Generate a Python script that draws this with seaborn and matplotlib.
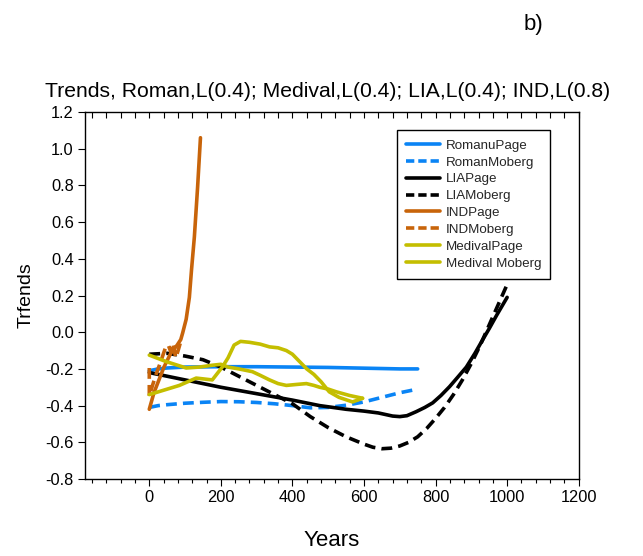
import numpy as np
import pandas as pd
import matplotlib
matplotlib.use("Agg")
import matplotlib.pyplot as plt
from matplotlib.ticker import MultipleLocator
import seaborn as sns

sns.set_theme(style="white")
plt.rcParams['font.family'] = ['Liberation Sans', 'DejaVu Sans']

# ---- data ----
roman_page_x = [0, 25, 50, 100, 200, 300, 400, 500, 600, 700, 750]
roman_page_y = [-0.21, -0.2, -0.195, -0.19, -0.188, -0.188, -0.19, -0.192, -0.196, -0.2, -0.2]

roman_moberg_x = [0, 25, 50, 100, 150, 200, 250, 300, 350, 400, 450, 500, 550, 600, 650, 700, 750]
roman_moberg_y = [-0.41, -0.40, -0.395, -0.387, -0.382, -0.378, -0.379, -0.383, -0.39, -0.40, -0.412, -0.41, -0.398, -0.38, -0.355, -0.33, -0.31]

lia_page_x = [0, 100, 200, 300, 400, 476, 550, 600, 640, 680, 700, 720, 746, 770, 792, 815, 839, 862, 886, 910, 932, 950, 970, 985, 1000]
lia_page_y = [-0.22, -0.26, -0.30, -0.335, -0.37, -0.40, -0.42, -0.43, -0.44, -0.457, -0.46, -0.455, -0.433, -0.41, -0.385, -0.345, -0.297, -0.245, -0.19, -0.115, -0.04, 0.02, 0.09, 0.14, 0.19]

lia_moberg_x = [0, 50, 100, 150, 200, 250, 300, 350, 400, 450, 500, 550, 600, 625, 650, 675, 700, 725, 750, 775, 800, 825, 850, 875, 900, 925, 950, 975, 1000]
lia_moberg_y = [-0.12, -0.115, -0.13, -0.15, -0.19, -0.24, -0.29, -0.34, -0.39, -0.46, -0.52, -0.57, -0.61, -0.627, -0.635, -0.632, -0.62, -0.60, -0.57, -0.525, -0.47, -0.41, -0.34, -0.26, -0.17, -0.07, 0.04, 0.15, 0.26]

ind_page_x = [0, 13, 27, 41, 60, 78, 88, 93, 103, 112, 118, 126, 135, 143]
ind_page_y = [-0.42, -0.33, -0.26, -0.19, -0.115, -0.07, -0.04, -0.006, 0.07, 0.19, 0.34, 0.52, 0.79, 1.06]

ind_moberg_x = [0, 0, 9, 18, 32, 46, 53, 60, 66, 74, 81, 88]
ind_moberg_y = [-0.195, -0.35, -0.29, -0.235, -0.16, -0.08, -0.07, -0.106, -0.06, -0.14, -0.097, -0.05]

medival_page_x = [0, 84, 131, 176, 204, 220, 237, 255, 280, 310, 336, 360, 383, 400, 420, 440, 460, 480, 503, 530, 568, 596]
medival_page_y = [-0.34, -0.29, -0.25, -0.26, -0.19, -0.14, -0.07, -0.05, -0.055, -0.065, -0.08, -0.085, -0.10, -0.12, -0.16, -0.20, -0.23, -0.27, -0.325, -0.355, -0.38, -0.36]

medival_moberg_x = [0, 47, 103, 140, 176, 200, 220, 250, 288, 310, 336, 360, 383, 410, 439, 460, 476, 500, 523, 560, 596]
medival_moberg_y = [-0.125, -0.16, -0.195, -0.19, -0.18, -0.175, -0.19, -0.20, -0.215, -0.235, -0.26, -0.28, -0.29, -0.285, -0.28, -0.29, -0.30, -0.31, -0.325, -0.345, -0.36]

labels = ["RomanuPage", "RomanMoberg", "LIAPage", "LIAMoberg",
          "INDPage", "INDMoberg", "MedivalPage", "Medival Moberg"]

BLUE = "#0a84f5"
ORANGE = "#c8640a"
YELLOW = "#c4be00"
series = [
    (roman_page_x, roman_page_y, BLUE, False),
    (roman_moberg_x, roman_moberg_y, BLUE, True),
    (lia_page_x, lia_page_y, "black", False),
    (lia_moberg_x, lia_moberg_y, "black", True),
    (ind_page_x, ind_page_y, ORANGE, False),
    (ind_moberg_x, ind_moberg_y, ORANGE, True),
    (medival_page_x, medival_page_y, YELLOW, False),
    (medival_moberg_x, medival_moberg_y, YELLOW, False),
]

fig = plt.figure(figsize=(6.43, 5.56), dpi=100)
ax = fig.add_axes([0.132, 0.1385, 0.768, 0.66])

lw = 2.6
for (xs, ys, col, dashed), lab in zip(series, labels):
    df = pd.DataFrame({"x": xs, "y": ys})
    sns.lineplot(data=df, x="x", y="y", ax=ax, color=col, lw=lw,
                 estimator=None, sort=False, label=lab,
                 linestyle="--" if dashed else "-")
for line in ax.get_lines():
    if line.get_linestyle() == "--":
        line.set_dashes((3.0, 1.7))
    line.set_solid_joinstyle("round")

ax.set_xlim(-180, 1200)
ax.set_ylim(-0.8, 1.2)
ax.set_xticks([0, 200, 400, 600, 800, 1000, 1200])
ax.xaxis.set_minor_locator(MultipleLocator(40))
yt = np.round(np.arange(-0.8, 1.21, 0.2), 1)
ax.set_yticks(yt)
ax.set_yticklabels([f"{v + 0.0:.1f}" if abs(v) > 1e-9 else "0.0" for v in yt])
ax.tick_params(axis="both", which="major", labelsize=11.8, direction="out",
               length=5, width=0.8, color="black", labelcolor="black", pad=3)
ax.tick_params(axis="x", which="minor", direction="out", length=3, width=0.8,
               color="black", bottom=True)
ax.tick_params(axis="x", bottom=True)
ax.tick_params(axis="y", left=True)

sec = ax.secondary_xaxis("top")
sec.set_xticks([0, 200, 400, 600, 800, 1000, 1200])
sec.xaxis.set_minor_locator(MultipleLocator(40))
sec.tick_params(axis="x", which="both", direction="in", length=4, width=0.8,
                labeltop=False, color="black")
sec.spines["top"].set_visible(False)

for s in ax.spines.values():
    s.set_visible(True)
    s.set_color("black")
    s.set_linewidth(1.0)

ax.set_xlabel("Years", fontsize=16, labelpad=18, color="black")
ax.set_ylabel("Trfends", fontsize=14, labelpad=8, color="black")

fig.text(0.509, 0.826, "Trends, Roman,L(0.4); Medival,L(0.4); LIA,L(0.4); IND,L(0.8)",
         ha="center", va="baseline", fontsize=15.2, color="black")
fig.text(0.814, 0.946, "b)", ha="left", va="baseline", fontsize=16, color="black")

leg = ax.legend(loc="upper left", bbox_to_anchor=(0.632, 0.951), fontsize=9.6,
                frameon=True, fancybox=False, edgecolor="black", framealpha=1,
                handlelength=2.5, handletextpad=0.45, labelspacing=0.34,
                borderpad=0.7, borderaxespad=0)
leg.get_frame().set_linewidth(1.0)
for h in leg.get_lines():
    h.set_linewidth(2.6)
    if h.get_linestyle() in ("--", "dashed") or h.get_linestyle() != "-":
        h.set_dashes((2.3, 1.1))

fig.savefig("out.png", dpi=100)
